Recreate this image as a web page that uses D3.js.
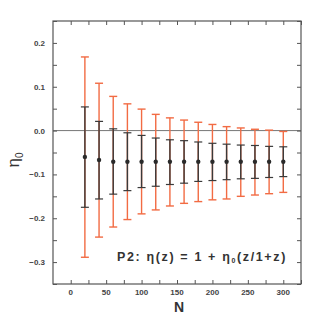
<!DOCTYPE html>
<html lang="en">
	<head>
		<title>eta0 vs N</title>
		<script src="https://d3js.org/d3.v7.min.js"></script>
		<style>
			body { margin: 0; background: #fff; }
		</style>
	</head>
	<body>
		<div id="chart"></div>
		<script>

			// sample sizes
			var N = [20, 40, 60, 80, 100, 120, 140, 160, 180, 200, 220, 240, 260, 280, 300];
			// best-fit eta0
			var eta0 = [-0.060, -0.067, -0.071, -0.071, -0.071, -0.071, -0.071, -0.071, -0.071, -0.071, -0.071, -0.071, -0.071, -0.071, -0.071];
			// inner (dark) error bar limits
			var innerHi = [0.054, 0.021, 0.004, -0.005, -0.011, -0.017, -0.021, -0.023, -0.026, -0.029, -0.031, -0.033, -0.034, -0.036, -0.037];
			var innerLo = [-0.175, -0.156, -0.145, -0.137, -0.130, -0.127, -0.123, -0.120, -0.116, -0.114, -0.112, -0.110, -0.109, -0.107, -0.105];
			// outer (orange) error bar limits
			var outerHi = [0.168, 0.108, 0.078, 0.061, 0.049, 0.037, 0.029, 0.024, 0.019, 0.014, 0.009, 0.006, 0.003, 0.001, -0.002];
			var outerLo = [-0.289, -0.243, -0.220, -0.203, -0.190, -0.181, -0.172, -0.166, -0.162, -0.158, -0.156, -0.150, -0.147, -0.144, -0.141];

			var xTicks = [0, 50, 100, 150, 200, 250, 300];
			var yTicks = [-0.3, -0.2, -0.1, 0.0, 0.1, 0.2];

			var width = 319, height = 319;
			var margin = {left: 53, right: 18, top: 21, bottom: 35};

			var svg = d3.select('#chart').append('svg')
				.attr('width', width)
				.attr('height', height);

			var x = d3.scaleLinear().domain([-25, 325]).range([margin.left, width - margin.right]);
			var y = d3.scaleLinear().domain([-0.35, 0.25]).range([height - margin.bottom, margin.top]);

			var axisColor = '#555';
			var labelFont = 'Liberation Sans, Arial, sans-serif';

			// zero line
			svg.append('line')
				.attr('x1', x(-25)).attr('x2', x(325))
				.attr('y1', y(0)).attr('y2', y(0))
				.attr('stroke', '#777').attr('stroke-width', 1);

			// ticks on all four sides, pointing inward
			var xMinor = d3.range(0, 326, 25);
			var yMinor = d3.range(-0.35, 0.251, 0.05);

			function tickAxes(ax, pos) {
				var g = svg.append('g').attr('transform', pos);
				g.call(ax);
				g.select('.domain').remove();
				g.selectAll('line').attr('stroke', axisColor).attr('stroke-width', 1);
				g.selectAll('text').remove();
				return g;
			}
			tickAxes(d3.axisBottom(x).tickValues(xMinor).tickSize(-4), 'translate(0,' + y(-0.35) + ')');
			tickAxes(d3.axisTop(x).tickValues(xMinor).tickSize(-4), 'translate(0,' + y(0.25) + ')');
			tickAxes(d3.axisLeft(y).tickValues(yMinor).tickSize(-4), 'translate(' + x(-25) + ',0)');
			tickAxes(d3.axisRight(y).tickValues(yMinor).tickSize(-4), 'translate(' + x(325) + ',0)');

			// tick labels
			svg.append('g').selectAll('text')
				.data(xTicks).enter().append('text')
				.attr('x', function(d) { return x(d); })
				.attr('y', y(-0.35) + 11)
				.attr('text-anchor', 'middle')
				.attr('font-family', labelFont).attr('font-weight', 'bold')
				.attr('font-size', 8).attr('fill', '#444')
				.text(function(d) { return d; });

			svg.append('g').selectAll('text')
				.data(yTicks).enter().append('text')
				.attr('x', x(-25) - 8)
				.attr('y', function(d) { return y(d) + 3; })
				.attr('text-anchor', 'end')
				.attr('font-family', labelFont).attr('font-weight', 'bold')
				.attr('font-size', 8).attr('fill', '#444')
				.text(function(d) { return d3.format('.1f')(d); });

			// frame
			svg.append('rect')
				.attr('x', x(-25)).attr('y', y(0.25))
				.attr('width', x(325) - x(-25)).attr('height', y(-0.35) - y(0.25))
				.attr('fill', 'none').attr('stroke', axisColor).attr('stroke-width', 1.2);

			var rows = N.map(function(n, i) {
				return {n: n, v: eta0[i], ih: innerHi[i], il: innerLo[i], oh: outerHi[i], ol: outerLo[i]};
			});

			var orange = '#f26b43', dark = '#3a3a3a', cap = 4;
			var bars = svg.append('g');

			// outer bars
			bars.selectAll('.outer').data(rows).enter().append('line')
				.attr('x1', function(d) { return x(d.n); }).attr('x2', function(d) { return x(d.n); })
				.attr('y1', function(d) { return y(d.oh); }).attr('y2', function(d) { return y(d.ol); })
				.attr('stroke', orange).attr('stroke-width', 1.4);
			['oh', 'ol'].forEach(function(k) {
				bars.selectAll('.cap' + k).data(rows).enter().append('line')
					.attr('x1', function(d) { return x(d.n) - cap; }).attr('x2', function(d) { return x(d.n) + cap; })
					.attr('y1', function(d) { return y(d[k]); }).attr('y2', function(d) { return y(d[k]); })
					.attr('stroke', orange).attr('stroke-width', 1.4);
			});

			// inner bars
			bars.selectAll('.inner').data(rows).enter().append('line')
				.attr('x1', function(d) { return x(d.n); }).attr('x2', function(d) { return x(d.n); })
				.attr('y1', function(d) { return y(d.ih); }).attr('y2', function(d) { return y(d.il); })
				.attr('stroke', dark).attr('stroke-width', 1.4);
			['ih', 'il'].forEach(function(k) {
				bars.selectAll('.cap' + k).data(rows).enter().append('line')
					.attr('x1', function(d) { return x(d.n) - cap; }).attr('x2', function(d) { return x(d.n) + cap; })
					.attr('y1', function(d) { return y(d[k]); }).attr('y2', function(d) { return y(d[k]); })
					.attr('stroke', dark).attr('stroke-width', 1.2);
			});

			// central values
			bars.selectAll('circle').data(rows).enter().append('circle')
				.attr('cx', function(d) { return x(d.n); })
				.attr('cy', function(d) { return y(d.v); })
				.attr('r', 2.2).attr('fill', '#2a2a2a');

			// axis titles
			svg.append('text')
				.attr('x', (x(-25) + x(325)) / 2 + 2).attr('y', 312)
				.attr('text-anchor', 'middle')
				.attr('font-family', labelFont).attr('font-weight', 'bold')
				.attr('font-size', 14).attr('fill', '#333')
				.text('N');

			var yl = svg.append('text')
				.attr('transform', 'translate(19,160) rotate(-90)')
				.attr('text-anchor', 'middle')
				.attr('font-family', labelFont)
				.attr('font-size', 17).attr('fill', '#333');
			yl.append('tspan').text('η');
			yl.append('tspan').attr('font-size', 10).attr('dy', 4).text('0');

			// annotation
			var note = svg.append('text')
				.attr('x', 117).attr('y', 261)
				.attr('font-family', labelFont).attr('font-weight', 'bold')
				.attr('font-size', 12.5).attr('fill', '#333');
			note.append('tspan').text('P2: η(z) = 1 + η');
			note.append('tspan').attr('font-size', 7).attr('dy', 2).text('0');
			note.append('tspan').attr('dy', -2).text('(z/1+z)');

			// stretch the annotation to the width it has in the original figure
			var w = note.node().getComputedTextLength();
			var nChars = note.text().length;
			note.attr('letter-spacing', Math.max(0, (170 - w) / nChars));

		</script>
	</body>
</html>
